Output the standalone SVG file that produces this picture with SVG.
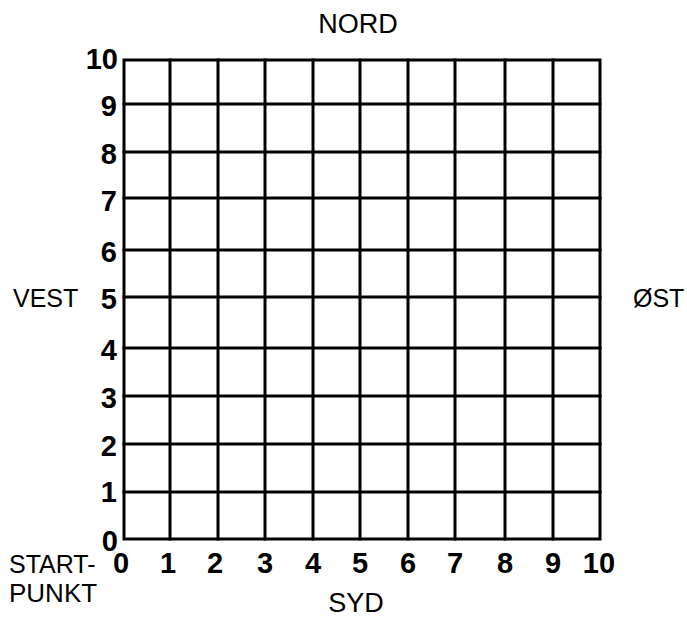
<svg xmlns="http://www.w3.org/2000/svg" width="687" height="617" viewBox="0 0 687 617">
<style>
.g{stroke:#000;stroke-width:3;fill:none;stroke-linecap:square}
.lbl{font-family:"Liberation Sans",Arial,sans-serif;font-size:25px;fill:#000}
.num{font-family:"Liberation Sans",Arial,sans-serif;font-size:29px;font-weight:bold;fill:#000}
</style>
<rect width="687" height="617" fill="#fff"/>
<g id="grid" class="g">
<rect x="124" y="60" width="476" height="479"/>
<path d="M170 60V539M218 60V539M265 60V539M313 60V539M360 60V539M408 60V539M455 60V539M505 60V539M553 60V539"/>
<path d="M124 104H600M124 152H600M124 198H600M124 250H600M124 297H600M124 348H600M124 396H600M124 444H600M124 492H600"/>
</g>
<g id="directions">
<text class="lbl" x="358" y="33" text-anchor="middle" style="font-size:27px">NORD</text>
<text class="lbl" x="356" y="612" text-anchor="middle" style="font-size:27px">SYD</text>
<text class="lbl" x="13" y="307">VEST</text>
<text class="lbl" x="633" y="307">ØST</text>
<text class="lbl" x="9" y="573">START-</text>
<text class="lbl" x="9" y="602" style="font-size:26px">PUNKT</text>
</g>
<g id="yaxis" class="num" text-anchor="end">
<text x="118" y="69">10</text>
<text x="117" y="116">9</text>
<text x="117" y="164">8</text>
<text x="117" y="211">7</text>
<text x="117" y="262">6</text>
<text x="117" y="309">5</text>
<text x="117" y="360">4</text>
<text x="117" y="408">3</text>
<text x="117" y="456">2</text>
<text x="117" y="502">1</text>
<text x="118" y="551">0</text>
</g>
<g id="xaxis" class="num" text-anchor="middle">
<text x="121" y="573">0</text>
<text x="168" y="573">1</text>
<text x="215" y="573">2</text>
<text x="265" y="573">3</text>
<text x="313" y="573">4</text>
<text x="360" y="573">5</text>
<text x="408" y="573">6</text>
<text x="455" y="573">7</text>
<text x="505" y="573">8</text>
<text x="553" y="573">9</text>
<text x="599" y="573">10</text>
</g>
</svg>
